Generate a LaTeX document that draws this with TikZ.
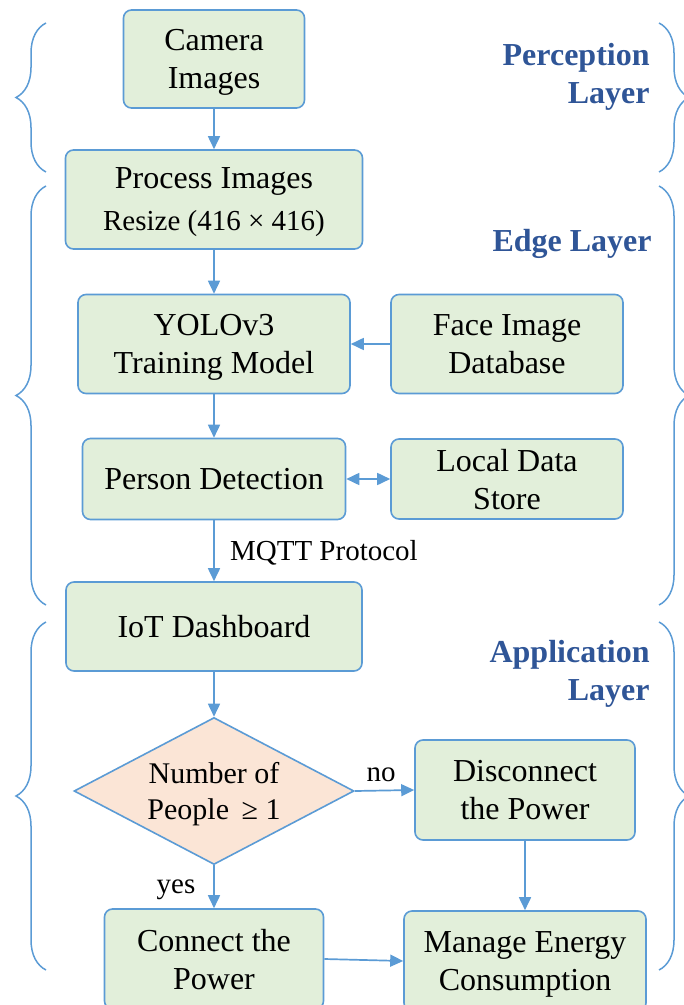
\documentclass[tikz,border=0pt]{standalone}
\usepackage{fontspec}
\setmainfont{Liberation Serif}
\usepackage{tikz}
\usetikzlibrary{shapes.geometric,arrows.meta,decorations.pathreplacing}
\definecolor{boxline}{HTML}{5B9BD5}
\definecolor{boxfill}{HTML}{E2EFDA}
\definecolor{decfill}{HTML}{FBE5D6}
\definecolor{layertext}{HTML}{2F5597}
\tikzstyle{block}      = [rectangle, rounded corners=4pt, draw=boxline, line width=0.8pt, fill=boxfill, align=center, inner sep=0pt, text depth=0pt, font=\fontsize{16}{19}\selectfont]
\tikzstyle{decision}   = [diamond, aspect=1.9, draw=boxline, line width=0.8pt, fill=decfill, align=center, inner sep=0pt, text depth=0pt, minimum width=140pt, minimum height=73.5pt, font=\fontsize{15}{18}\selectfont]
\tikzstyle{arrow}      = [draw=boxline, line width=0.85pt, -{Triangle[length=6.5pt,width=6pt]}]
\tikzstyle{twoway}     = [draw=boxline, line width=0.85pt, {Triangle[length=6.5pt,width=6pt]}-{Triangle[length=6.5pt,width=6pt]}]
\tikzstyle{layerbrace} = [draw=boxline, line width=0.75pt, decorate, decoration={brace, amplitude=15pt}]
\tikzstyle{layer}      = [text=layertext, font=\fontsize{16}{19}\selectfont\bfseries, align=right, anchor=east, inner sep=0pt]
\tikzstyle{lbl}        = [font=\fontsize{14.5}{17}\selectfont]

\begin{document}
\begin{tikzpicture}[x=0.5pt, y=-0.5pt]
		\useasboundingbox (0,0) rectangle (684,1005);

		\draw[layerbrace] (46,172) -- (46,23);
		\draw[layerbrace] (46,605) -- (46,186);
		\draw[layerbrace] (46,970) -- (46,622);
		\draw[layerbrace] (659,23) -- (659,172);
		\draw[layerbrace] (659,186) -- (659,605);
		\draw[layerbrace] (659,622) -- (659,970);

		\node[layer] (perc) at (650,77) {Perception\\Layer};
		\node[layer] (edge) at (652,244) {Edge Layer};
		\node[layer] (appl) at (650,674) {Application\\Layer};

		\node[block, minimum width=90.5pt, minimum height=49pt] (cam) at (214,59) {Camera\\Images};
		\node[block, minimum width=148.5pt, minimum height=49.5pt] (proc) at (214,199.5) {Process Images\\[2pt]{\fontsize{14.5}{17}\selectfont Resize (416 × 416)}};
		\node[block, minimum width=136pt, minimum height=49.5pt] (yolo) at (214,344) {YOLOv3\\Training Model};
		\node[block, minimum width=116pt, minimum height=49.5pt] (face) at (507,344) {Face Image\\Database};
		\node[block, minimum width=131.5pt, minimum height=40.5pt] (person) at (214,479) {Person Detection};
		\node[block, minimum width=116pt, minimum height=40pt] (local) at (507,479) {Local Data\\Store};
		\node[block, minimum width=148pt, minimum height=44.5pt] (iot) at (214,626.5) {IoT Dashboard};
		\node[decision] (people) at (214,791) {Number of\\People \,≥ 1};
		\node[block, minimum width=110pt, minimum height=50pt] (disc) at (525,790) {Disconnect\\the Power};
		\node[block, minimum width=109.5pt, minimum height=50pt] (conn) at (214,959) {Connect the\\Power};
		\node[block, minimum width=121pt, minimum height=50pt] (manage) at (525,961) {Manage Energy\\Consumption};

		\draw[arrow] (cam) -- (proc);
		\draw[arrow] (proc) -- (yolo);
		\draw[arrow] (face) -- (yolo);
		\draw[arrow] (yolo) -- (person);
		\draw[twoway] (person) -- (local);
		\draw[arrow] (person) -- (iot);
		\node[lbl, anchor=west] (mqtt) at (223,553) {MQTT Protocol};
		\draw[arrow] (iot) -- (people);
		\draw[arrow] (people.east) -- (disc.west);
		\node[lbl] (no) at (381,775) {no};
		\draw[arrow] (people.south) -- (conn.north);
		\node[lbl] (yes) at (176,890) {yes};
		\draw[arrow] (disc) -- (manage);
		\draw[arrow] (conn.east) -- (manage.west);
	\end{tikzpicture}
\end{document}
